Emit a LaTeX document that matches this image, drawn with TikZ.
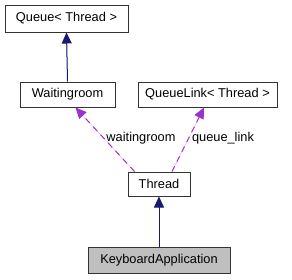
\documentclass[tikz,border=0pt]{standalone}
\usepackage{fontspec}
\setmainfont{Liberation Sans}
\usetikzlibrary{arrows.meta}
\definecolor{edgeblue}{HTML}{191970}
\definecolor{edgepurple}{HTML}{9A32CD}
\definecolor{boxgray}{HTML}{BFBFBF}
\begin{document}
\begin{tikzpicture}[x=1pt,y=-1pt,
  cls/.style={draw=black!80, line width=1pt, fill=white, inner sep=0pt, font=\fontsize{12.8}{14}\selectfont},
  inh/.style={draw=edgeblue, line width=1pt, -{Triangle[length=11pt,width=10pt]}, fill=edgeblue},
  usage/.style={draw=edgepurple, line width=1pt, dash pattern=on 6pt off 5pt, -{Triangle[length=11pt,width=10pt]}, fill=edgepurple},
  lbl/.style={font=\fontsize{12.8}{14}\selectfont, inner sep=0pt}]
\useasboundingbox (0,0) rectangle (292,279);
\node[cls, minimum width=123pt, minimum height=27pt] (queue) at (66.5,18.5) {Queue< Thread >};
\node[cls, minimum width=95pt, minimum height=25pt] (wait) at (67.5,94.5) {Waitingroom};
\node[cls, minimum width=139pt, minimum height=25pt] (qlink) at (207.5,94.5) {QueueLink< Thread >};
\node[cls, minimum width=62pt, minimum height=24pt] (thread) at (159,184) {Thread};
\node[cls, fill=boxgray, minimum width=142pt, minimum height=26pt] (ka) at (159,260) {KeyboardApplication};
\draw[inh] (wait.north) -- (queue.south);
\draw[inh] (ka.north) -- (thread.south);
\draw[usage] ([xshift=7pt]thread.north west) -- ([xshift=8pt]wait.south);
\draw[usage] ([xshift=13pt]thread.north) -- ([xshift=-3.5pt]qlink.south);
\node[lbl] (wl) at (141,138) {waitingroom};
\node[lbl] (ql) at (223,138) {queue\_link};
\end{tikzpicture}
\end{document}
